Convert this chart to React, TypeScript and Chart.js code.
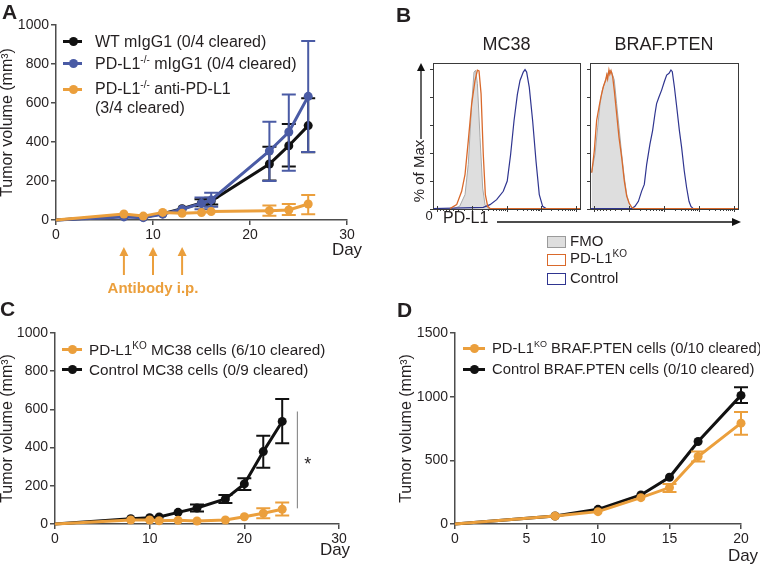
import React, { useEffect, useRef } from "react";
import { Chart, registerables } from "chart.js";
Chart.register(...registerables);

const FONT = "'Liberation Sans', Arial, Helvetica, sans-serif";
const TXT = "#231f20";
const AXIS = "#4d4d4d";
const ORANGE = "#eb9f3c";
const BLUE = "#4a5ba5";
const BLACK = "#111111";
const B_ORANGE = "#d9692b";
const B_BLUE = "#2f3590";
const B_GRAY_FILL = "#dedede";
const B_GRAY_LINE = "#a8a8a8";

// ---------- Panel A ----------
const daysA = [0, 7, 9, 11, 13, 15, 16, 22, 24, 26];
const wtA = [0, 20, 15, 32, 58, 88, 97, 287, 381, 484];
const wtALo = [0, 20, 15, 32, 53, 70, 80, 202, 274, 347];
const wtAHi = [0, 20, 15, 32, 63, 106, 114, 376, 492, 624];
const koIgA = [0, 16, 12, 30, 55, 85, 103, 354, 451, 634];
const koIgALo = [0, 16, 12, 30, 55, 55, 68, 200, 253, 349];
const koIgAHi = [0, 16, 12, 30, 55, 115, 140, 504, 644, 918];
const koAbA = [0, 31, 20, 39, 34, 38, 43, 48, 51, 82];
const koAbALo = [0, 31, 20, 39, 34, 38, 43, 22, 26, 30];
const koAbAHi = [0, 31, 20, 39, 34, 38, 43, 75, 82, 128];
const antibodyDays = [7, 10, 13];
const xTicksA = [0, 10, 20, 30];
const yTicksA = [0, 200, 400, 600, 800, 1000];

// ---------- Panel C ----------
const daysC = [0, 8, 10, 11, 13, 15, 18, 20, 22, 24];
const ctrlC = [0, 28, 33, 37, 61, 84, 131, 210, 379, 537];
const ctrlCLo = [0, 28, 33, 37, 56, 66, 110, 178, 295, 423];
const ctrlCHi = [0, 28, 33, 37, 66, 102, 152, 240, 462, 654];
const koC = [0, 21, 21, 17, 19, 16, 21, 38, 56, 77];
const koCLo = [0, 21, 21, 17, 19, 16, 21, 38, 30, 44];
const koCHi = [0, 21, 21, 17, 19, 16, 21, 38, 82, 112];
const xTicksC = [0, 10, 20, 30];
const yTicksC = [0, 200, 400, 600, 800, 1000];
const sigDay = 25.6;
const sigRange = [82, 589];
const sigStar = [26.7, 326];

// ---------- Panel D ----------
const daysD = [0, 7, 10, 13, 15, 17, 20];
const ctrlD = [0, 63, 115, 228, 367, 648, 1010];
const ctrlDLo = [0, 63, 115, 228, 367, 648, 950];
const ctrlDHi = [0, 63, 115, 228, 367, 648, 1073];
const koD = [0, 63, 97, 207, 286, 530, 792];
const koDLo = [0, 63, 97, 207, 252, 490, 700];
const koDHi = [0, 63, 97, 207, 315, 569, 879];
const xTicksD = [0, 5, 10, 15, 20];
const yTicksD = [0, 500, 1000, 1500];

// ---------- Panel B (histograms, x = % of axis, y = % of max) ----------
const mc38Fmo = [[0, 0.3], [13.8, 0.3], [18.1, 1.9], [21.8, 10.3], [24.0, 32], [26.3, 75], [27.9, 98], [29.0, 99.3], [30.2, 89.7], [32.0, 51], [33.8, 15], [35.4, 3], [37.6, 0.3], [100, 0.3]];
const mc38Ko = [[11.6, 0.3], [16.1, 3.1], [19.5, 12.7], [21.8, 24.8], [24.0, 48.8], [26.3, 75.2], [28.6, 92], [30.2, 99.3], [31.3, 98.8], [32.7, 82.5], [34.2, 39], [35.6, 10.3], [37.2, 1.9], [38.8, 0.3], [100, 0.3]];
const mc38Ctrl = [[0, 0.3], [34.2, 1.2], [38.8, 3.1], [43.3, 6.7], [47.8, 12.7], [50.5, 20], [52.8, 39], [55.1, 63], [57.4, 82], [59.2, 92], [61.4, 98], [62.6, 99.8], [63.7, 98], [65.5, 87], [67.8, 63], [70.1, 34], [72.3, 10.3], [74.6, 1.9], [76.9, 0.3]];
const brafFmo = [[1.0, 26], [3.4, 39.3], [5.2, 58.6], [6.8, 75.4], [8.3, 85.1], [10.1, 91.1], [11.9, 97.1], [13.5, 99.5], [14.6, 98.3], [16.4, 92.3], [18.0, 75.4], [19.6, 58.6], [21.4, 39.3], [23.2, 22.4], [24.8, 10.4], [26.4, 4.3], [28.2, 0.7], [30.4, 0.3], [100, 0.3]];
const brafKo = [[1.2, 26], [2.9, 41.7], [4.5, 63.4], [6.1, 73], [7.4, 80.2], [9.0, 87.5], [10.6, 92.3], [11.3, 96], [11.9, 93], [12.8, 99.5], [13.4, 96.5], [14.2, 99], [15.3, 94.7], [16.4, 85.1], [18.0, 68.2], [19.6, 51.3], [21.4, 36.9], [23.2, 20], [24.8, 9.2], [26.4, 4.3], [28.2, 1.2], [30.0, 0.3], [100, 0.3]];
const brafCtrl = [[0, 0.3], [28.2, 0.3], [30.4, 1.9], [32.7, 5.5], [34.9, 12.8], [36.7, 17.6], [38.3, 32], [40.5, 46.5], [42.3, 56.1], [43.9, 68.2], [45.0, 75.4], [46.6, 80.2], [48.4, 85.1], [50.2, 91.1], [51.8, 95.9], [53.4, 97.1], [54.7, 99.5], [55.6, 98.3], [57.0, 87.5], [58.6, 73], [60.4, 56.1], [61.9, 44.1], [63.7, 27.2], [65.3, 15.2], [66.9, 5.5], [68.2, 1.9], [69.8, 0.3]];
const bYTicks = [0, 20, 40, 60, 80, 100];
const bXTicksMajor = [3, 26.5, 50, 73.5, 97];
const bXTicksMinor = [5, 7, 9, 11, 13.5, 17, 21, 33.6, 37.7, 40.6, 42.9, 44.8, 46.4, 47.7, 48.9, 57.1, 61.2, 64.1, 66.4, 68.3, 69.9, 71.2, 72.4, 80.6, 84.7, 87.6, 89.9, 91.8, 93.4, 94.7, 95.9];

// ---------- plugins ----------
const errorBarPlugin = {
  id: "errbars",
  afterDatasetDraw(chart: any, args: any) {
    const ds = chart.data.datasets[args.index];
    if (!ds.errLo) return;
    const ys = chart.scales.y;
    const ctx = chart.ctx;
    ctx.save();
    ctx.strokeStyle = ds.borderColor;
    ctx.lineWidth = 2;
    args.meta.data.forEach((pt: any, i: number) => {
      const lo = ds.errLo[i];
      const hi = ds.errHi[i];
      const yl = ys.getPixelForValue(lo);
      const yh = ys.getPixelForValue(hi);
      if (Math.abs(yl - yh) < 3) return;
      const x = pt.x;
      ctx.beginPath();
      ctx.moveTo(x, yl);
      ctx.lineTo(x, yh);
      ctx.moveTo(x - 7, yl);
      ctx.lineTo(x + 7, yl);
      ctx.moveTo(x - 7, yh);
      ctx.lineTo(x + 7, yh);
      ctx.stroke();
    });
    ctx.restore();
  },
};

function drawArrow(ctx: any, x1: number, y1: number, x2: number, y2: number, len: number, half: number) {
  const ang = Math.atan2(y2 - y1, x2 - x1);
  const bx = x2 - len * Math.cos(ang);
  const by = y2 - len * Math.sin(ang);
  ctx.beginPath();
  ctx.moveTo(x1, y1);
  ctx.lineTo(bx, by);
  ctx.stroke();
  ctx.beginPath();
  ctx.moveTo(x2, y2);
  ctx.lineTo(bx + half * Math.sin(ang), by - half * Math.cos(ang));
  ctx.lineTo(bx - half * Math.sin(ang), by + half * Math.cos(ang));
  ctx.closePath();
  ctx.fill();
}

function dayLabelPlugin(y: number, dx: number) {
  return {
    id: "dayLabel",
    afterDraw(chart: any) {
      const ctx = chart.ctx;
      const xs = chart.scales.x;
      ctx.save();
      ctx.font = `17px ${FONT}`;
      ctx.fillStyle = TXT;
      ctx.textAlign = "center";
      ctx.textBaseline = "middle";
      ctx.fillText("Day", xs.getPixelForValue(xs.max) + dx, y);
      ctx.restore();
    },
  };
}

const antibodyPlugin = {
  id: "antibody",
  afterDraw(chart: any) {
    const ctx = chart.ctx;
    const xs = chart.scales.x;
    ctx.save();
    ctx.strokeStyle = ORANGE;
    ctx.fillStyle = ORANGE;
    ctx.lineWidth = 2;
    const px = antibodyDays.map((d) => xs.getPixelForValue(d));
    px.forEach((x) => drawArrow(ctx, x, 275, x, 247, 9, 4.5));
    ctx.font = `bold 15px ${FONT}`;
    ctx.textAlign = "center";
    ctx.textBaseline = "middle";
    ctx.fillText("Antibody i.p.", (px[0] + px[px.length - 1]) / 2, 289);
    ctx.restore();
  },
};

const sigPlugin = {
  id: "sig",
  afterDraw(chart: any) {
    const ctx = chart.ctx;
    const xs = chart.scales.x;
    const ys = chart.scales.y;
    ctx.save();
    ctx.strokeStyle = "#7a7a7a";
    ctx.lineWidth = 1;
    const x = xs.getPixelForValue(sigDay);
    ctx.beginPath();
    ctx.moveTo(x, ys.getPixelForValue(sigRange[0]));
    ctx.lineTo(x, ys.getPixelForValue(sigRange[1]));
    ctx.stroke();
    ctx.font = `18px ${FONT}`;
    ctx.fillStyle = TXT;
    ctx.textAlign = "center";
    ctx.textBaseline = "middle";
    ctx.fillText("*", xs.getPixelForValue(sigStar[0]), ys.getPixelForValue(sigStar[1]) + 3);
    ctx.restore();
  },
};

function lineConfig(p: any) {
  return {
    type: "line",
    data: {
      datasets: p.series.map((s: any) => ({
        label: s.label,
        data: s.days.map((d: number, i: number) => ({ x: d, y: s.values[i] })),
        errLo: s.lo,
        errHi: s.hi,
        borderColor: s.color,
        backgroundColor: s.color,
        borderWidth: 3,
        pointRadius: s.days.map((d: number) => (d === 0 ? 0 : 4.5)),
        pointBorderWidth: 0,
        pointHoverRadius: 0,
        tension: 0,
        fill: false,
        clip: false,
        order: s.order,
      })),
    },
    options: {
      responsive: false,
      animation: false,
      events: [],
      layout: { padding: p.pad, autoPadding: false },
      plugins: { legend: { display: false }, tooltip: { enabled: false }, title: { display: false } },
      scales: {
        x: {
          type: "linear",
          min: p.xTicks[0],
          max: p.xTicks[p.xTicks.length - 1],
          afterBuildTicks: (s: any) => {
            s.ticks = p.xTicks.map((v: number) => ({ value: v }));
          },
          afterFit: (s: any) => {
            s.height = p.xAxisHeight;
          },
          ticks: {
            font: { family: FONT, size: 14 },
            color: TXT,
            padding: 2,
            maxRotation: 0,
            autoSkip: false,
            callback: (v: any) => String(v),
          },
          grid: { drawOnChartArea: false, tickLength: 5, color: AXIS, lineWidth: 1.5 },
          border: { color: AXIS, width: 1.5 },
        },
        y: {
          type: "linear",
          min: p.yTicks[0],
          max: p.yTicks[p.yTicks.length - 1],
          afterBuildTicks: (s: any) => {
            s.ticks = p.yTicks.map((v: number) => ({ value: v }));
          },
          afterFit: (s: any) => {
            s.width = p.yAxisWidth;
          },
          ticks: {
            font: { family: FONT, size: 14 },
            color: TXT,
            padding: 2,
            autoSkip: false,
            callback: (v: any) => String(v),
          },
          grid: { drawOnChartArea: false, tickLength: 5, color: AXIS, lineWidth: 1.5 },
          border: { color: AXIS, width: 1.5 },
          title: {
            display: true,
            text: "Tumor volume (mm³)",
            font: { family: FONT, size: 16, lineHeight: 1 },
            color: TXT,
            padding: 0,
          },
        },
      },
    },
    plugins: [errorBarPlugin, ...p.extra],
  };
}

function histFramePlugin(title: string) {
  return {
    id: "histFrame",
    afterDraw(chart: any) {
      const ctx = chart.ctx;
      const a = chart.chartArea;
      const xs = chart.scales.x;
      const ys = chart.scales.y;
      ctx.save();
      ctx.strokeStyle = "#3a3a3a";
      ctx.lineWidth = 1;
      ctx.strokeRect(Math.round(a.left) + 0.5, Math.round(a.top) + 0.5, Math.round(a.right - a.left), Math.round(a.bottom - a.top));
      ctx.beginPath();
      bYTicks.forEach((v) => {
        const y = Math.round(ys.getPixelForValue(v)) + 0.5;
        ctx.moveTo(a.left - 3, y);
        ctx.lineTo(a.left, y);
      });
      bXTicksMajor.forEach((v) => {
        const x = Math.round(xs.getPixelForValue(v)) + 0.5;
        ctx.moveTo(x, a.bottom - 3);
        ctx.lineTo(x, a.bottom + 3);
      });
      bXTicksMinor.forEach((v) => {
        const x = Math.round(xs.getPixelForValue(v)) + 0.5;
        ctx.moveTo(x, a.bottom);
        ctx.lineTo(x, a.bottom + 2);
      });
      ctx.stroke();
      ctx.font = `18px ${FONT}`;
      ctx.fillStyle = TXT;
      ctx.textAlign = "center";
      ctx.textBaseline = "middle";
      ctx.fillText(title, (a.left + a.right) / 2, 45);
      ctx.restore();
    },
  };
}

const histAxesPlugin = {
  id: "histAxes",
  afterDraw(chart: any) {
    const ctx = chart.ctx;
    ctx.save();
    ctx.strokeStyle = "#111";
    ctx.fillStyle = "#111";
    ctx.lineWidth = 1.3;
    drawArrow(ctx, 41, 139, 41, 63, 8, 4);
    drawArrow(ctx, 117, 222, 361, 222, 9, 4);
    ctx.fillStyle = TXT;
    ctx.font = `15px ${FONT}`;
    ctx.textAlign = "center";
    ctx.textBaseline = "middle";
    ctx.translate(40, 171);
    ctx.rotate(-Math.PI / 2);
    ctx.fillText("% of Max", 0, 0);
    ctx.setTransform(1, 0, 0, 1, 0, 0);
    ctx.font = `13px ${FONT}`;
    ctx.fillText("0", 49, 216);
    ctx.font = `16px ${FONT}`;
    ctx.textAlign = "left";
    ctx.fillText("PD-L1", 63, 219);
    ctx.restore();
  },
};

function histConfig(fmo: number[][], ko: number[][], ctrl: number[][], title: string, pad: any, withAxes: boolean) {
  const pts = (arr: number[][]) => arr.map(([x, y]) => ({ x, y }));
  return {
    type: "line",
    data: {
      datasets: [
        { data: pts(ko), borderColor: B_ORANGE, borderWidth: 1.3, pointRadius: 0, fill: false, tension: 0, order: 0 },
        { data: pts(ctrl), borderColor: B_BLUE, borderWidth: 1.2, pointRadius: 0, fill: false, tension: 0, order: 1 },
        { data: pts(fmo), borderColor: B_GRAY_LINE, backgroundColor: B_GRAY_FILL, borderWidth: 1, pointRadius: 0, fill: "origin", tension: 0, order: 2 },
      ],
    },
    options: {
      responsive: false,
      animation: false,
      events: [],
      layout: { padding: pad, autoPadding: false },
      plugins: { legend: { display: false }, tooltip: { enabled: false }, title: { display: false } },
      scales: {
        x: { type: "linear", min: 0, max: 100, display: false },
        y: { type: "linear", min: 0, max: 104.5, display: false },
      },
    },
    plugins: withAxes ? [histFramePlugin(title), histAxesPlugin] : [histFramePlugin(title)],
  };
}

function ChartCanvas({ left, top, width, height, make }: any) {
  const ref = useRef<HTMLCanvasElement>(null);
  useEffect(() => {
    const chart = new Chart(ref.current as any, make() as any);
    return () => chart.destroy();
  }, []);
  return <canvas ref={ref} width={width} height={height} style={{ position: "absolute", left, top, width, height }} />;
}

function Sup({ children, size = 10 }: any) {
  return <span style={{ fontSize: size, position: "relative", top: -6 }}>{children}</span>;
}

function LineKey({ x1, x2, cx, y, color }: any) {
  return (
    <>
      <div style={{ position: "absolute", left: x1, top: y - 1.5, width: x2 - x1, height: 3, background: color }} />
      <div style={{ position: "absolute", left: cx - 4.5, top: y - 4.5, width: 9, height: 9, borderRadius: "50%", background: color }} />
    </>
  );
}

function Txt({ x, y, size = 16, bold = false, color = TXT, children }: any) {
  return (
    <div
      style={{
        position: "absolute",
        left: x,
        top: y - size * 0.49,
        fontSize: size,
        lineHeight: `${size}px`,
        fontWeight: bold ? "bold" : "normal",
        color,
        whiteSpace: "nowrap",
      }}
    >
      {children}
    </div>
  );
}

function BoxKey({ y, fill, stroke }: any) {
  return (
    <div
      style={{
        position: "absolute",
        left: 547,
        top: y - 5.5,
        width: 17,
        height: 10,
        background: fill,
        border: `1.2px solid ${stroke}`,
      }}
    />
  );
}

export default function App() {
  const seriesA = [
    { label: "WT mIgG1", days: daysA, values: wtA, lo: wtALo, hi: wtAHi, color: BLACK, order: 2 },
    { label: "PD-L1-/- mIgG1", days: daysA, values: koIgA, lo: koIgALo, hi: koIgAHi, color: BLUE, order: 1 },
    { label: "PD-L1-/- anti-PD-L1", days: daysA, values: koAbA, lo: koAbALo, hi: koAbAHi, color: ORANGE, order: 0 },
  ];
  const seriesC = [
    { label: "PD-L1KO MC38", days: daysC, values: koC, lo: koCLo, hi: koCHi, color: ORANGE, order: 0 },
    { label: "Control MC38", days: daysC, values: ctrlC, lo: ctrlCLo, hi: ctrlCHi, color: BLACK, order: 1 },
  ];
  const seriesD = [
    { label: "PD-L1KO BRAF.PTEN", days: daysD, values: koD, lo: koDLo, hi: koDHi, color: ORANGE, order: 0 },
    { label: "Control BRAF.PTEN", days: daysD, values: ctrlD, lo: ctrlDLo, hi: ctrlDHi, color: BLACK, order: 1 },
  ];

  return (
    <div
      style={{
        position: "absolute",
        left: 0,
        top: 0,
        width: 760,
        height: 566,
        overflow: "hidden",
        background: "#fff",
        fontFamily: FONT,
        color: TXT,
      }}
    >
      <ChartCanvas
        left={0}
        top={0}
        width={380}
        height={300}
        make={() =>
          lineConfig({
            series: seriesA,
            xTicks: xTicksA,
            yTicks: yTicksA,
            pad: { left: 0, right: 33, top: 25, bottom: 0 },
            yAxisWidth: 56,
            xAxisHeight: 80,
            extra: [dayLabelPlugin(250, 0), antibodyPlugin],
          })
        }
      />
      <ChartCanvas
        left={0}
        top={290}
        width={380}
        height={276}
        make={() =>
          lineConfig({
            series: seriesC,
            xTicks: xTicksC,
            yTicks: yTicksC,
            pad: { left: 0, right: 41, top: 43, bottom: 0 },
            yAxisWidth: 55,
            xAxisHeight: 42,
            extra: [dayLabelPlugin(260, -4), sigPlugin],
          })
        }
      />
      <ChartCanvas
        left={380}
        top={290}
        width={380}
        height={276}
        make={() =>
          lineConfig({
            series: seriesD,
            xTicks: xTicksD,
            yTicks: yTicksD,
            pad: { left: 19, right: 19, top: 43, bottom: 0 },
            yAxisWidth: 56,
            xAxisHeight: 42,
            extra: [dayLabelPlugin(266, 2)],
          })
        }
      />
      <ChartCanvas
        left={380}
        top={0}
        width={380}
        height={300}
        make={() => histConfig(mc38Fmo, mc38Ko, mc38Ctrl, "MC38", { left: 53, right: 180, top: 63, bottom: 91 }, true)}
      />
      <ChartCanvas
        left={380}
        top={0}
        width={380}
        height={300}
        make={() => histConfig(brafFmo, brafKo, brafCtrl, "BRAF.PTEN", { left: 210, right: 22, top: 63, bottom: 91 }, false)}
      />

      {/* Panel letters */}
      <Txt x={2} y={11} size={21} bold>A</Txt>
      <Txt x={396} y={14} size={21} bold>B</Txt>
      <Txt x={0} y={308} size={21} bold>C</Txt>
      <Txt x={397} y={309} size={21} bold>D</Txt>

      {/* Legend A */}
      <LineKey x1={63} x2={82} cx={73} y={41.5} color={BLACK} />
      <Txt x={95} y={41.5}>WT mIgG1 (0/4 cleared)</Txt>
      <LineKey x1={63} x2={82} cx={73} y={63.5} color={BLUE} />
      <Txt x={95} y={63.5}>PD-L1<Sup>-/-</Sup> mIgG1 (0/4 cleared)</Txt>
      <LineKey x1={63} x2={82} cx={73} y={89} color={ORANGE} />
      <Txt x={95} y={89}>PD-L1<Sup>-/-</Sup> anti-PD-L1</Txt>
      <Txt x={95} y={108}>(3/4 cleared)</Txt>

      {/* Legend B */}
      <BoxKey y={241} fill={B_GRAY_FILL} stroke="#9a9a9a" />
      <Txt x={570} y={240} size={15}>FMO</Txt>
      <BoxKey y={259} fill="#fff" stroke={B_ORANGE} />
      <Txt x={570} y={257} size={15}>PD-L1<Sup>KO</Sup></Txt>
      <BoxKey y={278} fill="#fff" stroke={B_BLUE} />
      <Txt x={570} y={277} size={15}>Control</Txt>

      {/* Legend C */}
      <LineKey x1={62} x2={82} cx={72} y={349} color={ORANGE} />
      <Txt x={89} y={349} size={15.3}>PD-L1<Sup>KO</Sup> MC38 cells (6/10 cleared)</Txt>
      <LineKey x1={62} x2={82} cx={72} y={369} color={BLACK} />
      <Txt x={89} y={369} size={15.3}>Control MC38 cells (0/9 cleared)</Txt>

      {/* Legend D */}
      <LineKey x1={463} x2={485} cx={474} y={348} color={ORANGE} />
      <Txt x={492} y={348} size={14.8}>PD-L1<Sup size={9}>KO</Sup> BRAF.PTEN cells (0/10 cleared)</Txt>
      <LineKey x1={463} x2={485} cx={474} y={369} color={BLACK} />
      <Txt x={492} y={369} size={14.8}>Control BRAF.PTEN cells (0/10 cleared)</Txt>
    </div>
  );
}
